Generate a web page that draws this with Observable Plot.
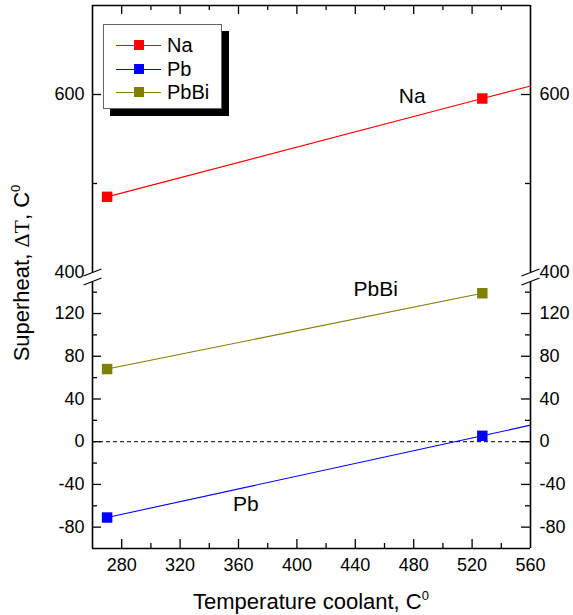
<!DOCTYPE html>
<html>
<head>
<meta charset="utf-8">
<script src="https://cdn.jsdelivr.net/npm/d3@7"></script>
<script src="https://cdn.jsdelivr.net/npm/@observablehq/plot@0.6"></script>
<style>
  body { margin: 0; background: #fff; }
  #wrap { position: relative; width: 573px; height: 615px; font-family: "Liberation Sans", Arial, sans-serif; }
  #legend { position: absolute; left: 103px; top: 24px; width: 117px; height: 83px; background: #fff;
            border: 1px solid #666; box-shadow: 7px 7px 0 #000; }
  .row { position: absolute; left: 0; height: 20px; width: 117px; }
  .row .ln { position: absolute; left: 12px; width: 45px; top: 10px; height: 1px; }
  .row .sq { position: absolute; left: 30px; top: 5px; width: 10px; height: 10px; }
  .row .tx { position: absolute; left: 63px; top: -1px; font-size: 20px; line-height: 22px; color: #000; }
</style>
</head>
<body>
<div id="wrap"></div>
<script>
// ---- data ----
const seriesNames = ["Na", "Pb", "PbBi"];
const seriesColors = ["#ff0000", "#0000ff", "#808000"];
const coolantTemps = [270, 527];          // measured points
const naValues = [485, 595.5];
const pbValues = [-71, 5.5];
const pbbiValues = [68, 139];
const lineEndTemp = 560;                  // fitted lines extended to
const naLineEnd = 609.5;
const pbLineEnd = 15.5;
const xTicks = [280, 320, 360, 400, 440, 480, 520, 560];
const xMinor = [300, 340, 380, 420, 460, 500, 540];
const yLabels = [-80, -40, 0, 40, 80, 120, 400, 600];
const yMajor = [-80, -40, 0, 40, 80, 120, 600];
const yMinor = [-60, -20, 20, 60, 100, 140, 500];
const annotations = [
  {name: "Na", x: 479, y: 598},
  {name: "PbBi", x: 454, y: 143},
  {name: "Pb", x: 365, y: -59}
];

// ---- build tables ----
const points = [];
const lines = [];
[naValues, pbValues, pbbiValues].forEach((vals, i) => {
  coolantTemps.forEach((t, j) => {
    points.push({series: seriesNames[i], x: t, y: vals[j]});
    lines.push({series: seriesNames[i], x: t, y: vals[j]});
  });
});
lines.push({series: "Na", x: lineEndTemp, y: naLineEnd});
lines.push({series: "Pb", x: lineEndTemp, y: pbLineEnd});

const W = 573, H = 615;
const mL = 92, mR = 43, mT = 5, mB = 67;
const innerW = W - mL - mR, innerH = H - mT - mB;
const xMin = 260, xMax = 560;
const yLow = [-100, 150], yHigh = [400, 700];

// broken axis: two linear segments with a small gap between them
const lowSpan = 267, gap = 9, highSpan = innerH - lowSpan - gap;
const breakY = v => v <= yLow[1]
  ? (v - yLow[0]) / (yLow[1] - yLow[0]) * lowSpan
  : lowSpan + gap + (v - yHigh[0]) / (yHigh[1] - yHigh[0]) * highSpan;

const slash = {draw(ctx) { ctx.moveTo(-9, 3.5); ctx.lineTo(9, -3.5); }};
const colorOf = d3.scaleOrdinal(seriesNames, seriesColors);

const chart = Plot.plot({
  width: W, height: H,
  marginLeft: mL, marginRight: mR, marginTop: mT, marginBottom: mB,
  style: {fontFamily: "'Liberation Sans', Arial, sans-serif", background: "#fff", overflow: "visible"},
  x: {domain: [xMin, xMax]},
  y: {transform: breakY, domain: [0, innerH], axis: null},
  marks: [
    // zero line
    Plot.ruleY([0], {stroke: "#000", strokeWidth: 1, strokeDasharray: "4,3"}),
    // frame
    Plot.ruleY([yLow[0], yHigh[1]], {stroke: "#000", strokeWidth: 1.6}),
    Plot.ruleX([xMin, xMax], {y1: yLow[0], y2: yLow[1], stroke: "#000", strokeWidth: 1.6}),
    Plot.ruleX([xMin, xMax], {y1: yHigh[0], y2: yHigh[1], stroke: "#000", strokeWidth: 1.6}),
    // break marks
    Plot.dot([[xMin, yLow[1]], [xMin, yHigh[0]], [xMax, yLow[1]], [xMax, yHigh[0]]],
      {x: d => d[0], y: d => d[1], symbol: slash, stroke: "#000", strokeWidth: 1.2, fill: "none"}),
    // inward ticks
    Plot.ruleY(yMajor, {insetRight: innerW - 9, stroke: "#000", strokeWidth: 1.3}),
    Plot.ruleY(yMinor, {insetRight: innerW - 5, stroke: "#000", strokeWidth: 1.3}),
    Plot.ruleY(yMajor, {insetLeft: innerW - 9, stroke: "#000", strokeWidth: 1.3}),
    Plot.ruleY(yMinor, {insetLeft: innerW - 5, stroke: "#000", strokeWidth: 1.3}),
    Plot.ruleX(xTicks.slice(0, -1), {insetTop: innerH - 9, stroke: "#000", strokeWidth: 1.3}),
    Plot.ruleX(xMinor, {insetTop: innerH - 5, stroke: "#000", strokeWidth: 1.3}),
    Plot.ruleX(xTicks.slice(0, -1), {insetBottom: innerH - 9, stroke: "#000", strokeWidth: 1.3}),
    Plot.ruleX(xMinor, {insetBottom: innerH - 5, stroke: "#000", strokeWidth: 1.3}),
    // y tick labels (through the broken y scale)
    Plot.text(yLabels, {x: xMin, y: d => d, text: d => String(d), textAnchor: "end", dx: -8, fontSize: 18, fill: "#000"}),
    Plot.text(yLabels, {x: xMax, y: d => d, text: d => String(d), textAnchor: "start", dx: 9, fontSize: 18, fill: "#000"}),
    Plot.axisX({anchor: "bottom", ticks: xTicks, tickSize: 0, tickPadding: 10, fontSize: 18, label: null}),
    // data
    Plot.line(lines, {x: "x", y: "y", z: "series", stroke: d => colorOf(d.series), strokeWidth: 1.1}),
    Plot.dot(points, {x: "x", y: "y", symbol: "square", r: 5.9, fill: d => colorOf(d.series), stroke: "none"}),
    Plot.text(annotations, {x: "x", y: "y", text: "name", fontSize: 21, fill: "#000"})
  ]
});

const wrap = document.getElementById("wrap");
wrap.appendChild(chart);

// axis titles
const svg = d3.select(chart);
const xt = svg.append("text").attr("x", 311).attr("y", 609).attr("text-anchor", "middle")
  .attr("font-size", 22).attr("fill", "#000");
xt.append("tspan").text("Temperature coolant, C");
xt.append("tspan").attr("dy", -9).attr("font-size", 13).text("0");

const yt = svg.append("text").attr("transform", "translate(29,273) rotate(-90)").attr("text-anchor", "middle")
  .attr("font-size", 22).attr("fill", "#000");
yt.append("tspan").text("Superheat, ");
yt.append("tspan").attr("font-family", "'Liberation Serif', 'Times New Roman', serif").text("ΔT");
yt.append("tspan").text(", C");
yt.append("tspan").attr("dy", -9).attr("font-size", 13).text("0");

// legend
const legend = document.createElement("div");
legend.id = "legend";
seriesNames.forEach((name, i) => {
  const row = document.createElement("div");
  row.className = "row";
  row.style.top = (10 + i * 23.5) + "px";
  row.innerHTML = `<div class="ln" style="background:${seriesColors[i]}"></div>` +
                  `<div class="sq" style="background:${seriesColors[i]}"></div>` +
                  `<div class="tx">${name}</div>`;
  legend.appendChild(row);
});
wrap.appendChild(legend);
</script>
</body>
</html>
